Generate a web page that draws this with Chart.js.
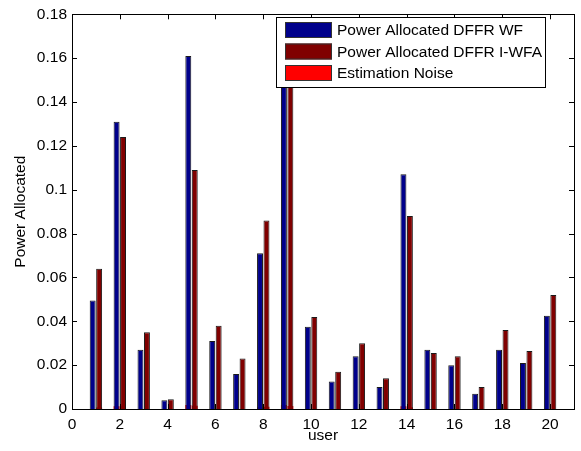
<!DOCTYPE html>
<html>
<head>
<meta charset="utf-8">
<script src="https://cdn.jsdelivr.net/npm/chart.js@4"></script>
<style>
  html, body { margin: 0; padding: 0; background: #fff; }
  #wrap { width: 581px; height: 451px; }
</style>
</head>
<body>
<div id="wrap"><canvas id="chart" width="581" height="451"></canvas></div>
<script>
const users = [1, 2, 3, 4, 5, 6, 7, 8, 9, 10, 11, 12, 13, 14, 15, 16, 17, 18, 19, 20];
const powerWF = [0.0495, 0.131, 0.027, 0.004, 0.161, 0.031, 0.016, 0.071, 0.175, 0.0375,
                 0.0125, 0.024, 0.010, 0.107, 0.027, 0.020, 0.007, 0.027, 0.021, 0.0425];
const powerIWFA = [0.064, 0.124, 0.035, 0.0045, 0.109, 0.038, 0.023, 0.086, 0.165, 0.042,
                   0.017, 0.030, 0.014, 0.088, 0.0255, 0.024, 0.010, 0.036, 0.0265, 0.052];
// estimation noise drawn at the foot of each bar pair
const noiseWF = [0, 0.0012, 0, 0, 0.0018, 0, 0, 0.0008, 0.0018, 0,
                 0, 0, 0, 0.0012, 0, 0, 0, 0, 0, 0];
const noiseIWFA = [0.0007, 0.0012, 0, 0, 0.0015, 0, 0, 0.001, 0.0014, 0,
                   0, 0, 0, 0.0008, 0, 0, 0, 0, 0, 0];
const xTicks = [0, 2, 4, 6, 8, 10, 12, 14, 16, 18, 20];
const yTicks = [0, 0.02, 0.04, 0.06, 0.08, 0.1, 0.12, 0.14, 0.16, 0.18];

const FONT = "'Liberation Sans', Arial, sans-serif";
const toPoints = (vals) => vals.map((v, i) => ({ x: users[i], y: v }));

// MATLAB-like box with inward ticks, plus the legend inside the axes
const boxPlugin = {
  id: 'box',
  afterDatasetsDraw(chart) {
    const { ctx, chartArea: a, scales: { x, y } } = chart;
    ctx.save();
    ctx.strokeStyle = '#000';
    ctx.lineWidth = 1;
    ctx.beginPath();
    xTicks.forEach(v => {
      const px = Math.round(x.getPixelForValue(v)) + 0.5;
      ctx.moveTo(px, a.bottom); ctx.lineTo(px, a.bottom - 5);
      ctx.moveTo(px, a.top); ctx.lineTo(px, a.top + 5);
    });
    yTicks.forEach(v => {
      const py = Math.round(y.getPixelForValue(v)) + 0.5;
      ctx.moveTo(a.left, py); ctx.lineTo(a.left + 5, py);
      ctx.moveTo(a.right, py); ctx.lineTo(a.right - 5, py);
    });
    ctx.stroke();
    ctx.strokeRect(Math.round(a.left) + 0.5, Math.round(a.top) + 0.5,
                   Math.round(a.right - a.left), Math.round(a.bottom - a.top));

    // legend
    const items = chart.data.datasets.filter(d => d.inLegend);
    const lx = 276.5, ly = 17.5, lw = 269, lh = 70;
    ctx.fillStyle = '#fff';
    ctx.fillRect(lx, ly, lw, lh);
    ctx.strokeRect(lx, ly, lw, lh);
    ctx.font = '15.5px ' + FONT;
    ctx.textBaseline = 'middle';
    items.forEach((d, i) => {
      const cy = 30 + i * 21.5;
      ctx.fillStyle = d.backgroundColor;
      ctx.fillRect(285, cy - 8, 47, 16);
      ctx.strokeStyle = '#333';
      ctx.strokeRect(285.5, cy - 7.5, 46, 15);
      ctx.fillStyle = '#000';
      ctx.fillText(d.label, 337, cy + 1);
    });
    ctx.restore();
  }
};

new Chart(document.getElementById('chart'), {
  type: 'bar',
  data: {
    datasets: [
      { label: 'Power Allocated DFFR WF', data: toPoints(powerWF), stack: 'wf',
        backgroundColor: '#00008B', borderColor: '#1a1a1a', borderWidth: 1, inLegend: true },
      { label: 'Power Allocated DFFR I-WFA', data: toPoints(powerIWFA), stack: 'iwfa',
        backgroundColor: '#800000', borderColor: '#1a1a1a', borderWidth: 1, inLegend: true },
      { label: 'Estimation Noise', data: toPoints(noiseWF), stack: 'wf',
        backgroundColor: '#FF0000', borderWidth: 0, inLegend: true },
      { label: 'Estimation Noise', data: toPoints(noiseIWFA), stack: 'iwfa',
        backgroundColor: '#FF0000', borderWidth: 0, inLegend: false }
    ]
  },
  options: {
    responsive: false,
    animation: false,
    devicePixelRatio: 1,
    categoryPercentage: 0.54,
    barPercentage: 0.92,
    layout: { padding: { top: 13, right: 7, left: 0, bottom: 0 } },
    plugins: { legend: { display: false }, tooltip: { enabled: false } },
    scales: {
      x: {
        type: 'linear',
        offset: false,
        min: 0,
        max: 21,
        grid: { display: false, drawTicks: false },
        border: { display: false },
        afterBuildTicks: (s) => { s.ticks = xTicks.map(v => ({ value: v })); },
        afterFit: (s) => { s.height = 42; },
        ticks: { color: '#000', padding: 6, maxRotation: 0, font: { family: FONT, size: 15.5 } },
        title: { display: true, text: 'user', color: '#000',
                 font: { family: FONT, size: 15.5 }, padding: { top: 0, bottom: 6 } }
      },
      y: {
        stacked: false,
        min: 0,
        max: 0.18,
        grid: { display: false, drawTicks: false },
        border: { display: false },
        afterBuildTicks: (s) => { s.ticks = yTicks.map(v => ({ value: v })); },
        afterFit: (s) => { s.width = 72; },
        ticks: { color: '#000', padding: 5, font: { family: FONT, size: 15.5 },
                 callback: (v) => String(+v.toFixed(2)) },
        title: { display: true, text: 'Power Allocated', color: '#000',
                 font: { family: FONT, size: 15.5 }, padding: { top: 11, bottom: 0 } }
      }
    }
  },
  plugins: [boxPlugin]
});
</script>
</body>
</html>
